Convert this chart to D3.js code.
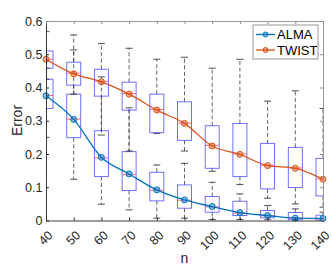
<!DOCTYPE html>
<html>
<head>
<meta charset="utf-8">
<script src="https://cdn.jsdelivr.net/npm/d3@7"></script>
<style>
  body { margin: 0; background: #fff; }
  svg { display: block; font-family: "Liberation Sans", Arial, sans-serif; }
</style>
</head>
<body>
<div id="chart"></div>
<script>
// values
let nValues = [40, 50, 60, 70, 80, 90, 100, 110, 120, 130, 140];
let yTicks = [0, 0.1, 0.2, 0.3, 0.4, 0.5, 0.6];

let almaLine   = [0.375, 0.304, 0.190, 0.140, 0.092, 0.062, 0.042, 0.024, 0.015, 0.007, 0.006];
let almaMedian = [0.376, 0.305, 0.188, 0.138, 0.091, 0.061, 0.041, 0.022, 0.014, 0.007, 0.005];
let almaQ1     = [0.337, 0.249, 0.132, 0.090, 0.059, 0.037, 0.025, 0.015, 0.008, 0.002, 0.001];
let almaQ3     = [0.425, 0.380, 0.270, 0.207, 0.145, 0.107, 0.072, 0.058, 0.030, 0.024, 0.016];
let almaLow    = [0.250, 0.124, 0.049, 0.032, 0.007, 0.007, 0.003, 0.003, 0.002, 0.001, 0.000];
let almaHigh   = [0.458, 0.513, 0.432, 0.339, 0.167, 0.172, 0.115, 0.080, 0.045, 0.035, 0.025];

let twistLine   = [0.485, 0.441, 0.417, 0.380, 0.332, 0.292, 0.224, 0.199, 0.165, 0.157, 0.124];
let twistMedian = [0.485, 0.443, 0.419, 0.382, 0.334, 0.293, 0.226, 0.200, 0.166, 0.158, 0.125];
let twistQ1     = [0.458, 0.407, 0.374, 0.332, 0.264, 0.241, 0.157, 0.132, 0.095, 0.099, 0.074];
let twistQ3     = [0.510, 0.476, 0.455, 0.416, 0.380, 0.357, 0.285, 0.292, 0.232, 0.220, 0.187];
let twistLow    = [0.425, 0.380, 0.257, 0.209, 0.262, 0.209, 0.148, 0.108, 0.067, 0.050, 0.040];
let twistHigh   = [0.568, 0.558, 0.532, 0.518, 0.485, 0.491, 0.458, 0.485, 0.359, 0.390, 0.337];

let seriesNames = ["ALMA", "TWIST"];
let seriesColors = ["#0072bd", "#d95319"];

let margin = {top: 21, left: 46},
    width = 277,
    height = 199.5;

let x = d3.scaleLinear().domain([40, 140]).range([0, width]);
let y = d3.scaleLinear().domain([0, 0.6]).range([height, 0]);

let svg = d3.select("#chart").append("svg")
            .attr("width", 332)
            .attr("height", 266);

let g = svg.append("g")
           .attr("transform", "translate(" + margin.left + "," + margin.top + ")");

g.append("clipPath").attr("id", "clip")
 .append("rect").attr("width", width).attr("height", height);

let plot = g.append("g").attr("clip-path", "url(#clip)");

// one record per box
let boxes = [];
nValues.forEach(function(n, i) {
  boxes.push({n: n, q1: almaQ1[i], q3: almaQ3[i], med: almaMedian[i], lo: almaLow[i], hi: almaHigh[i]});
  boxes.push({n: n, q1: twistQ1[i], q3: twistQ3[i], med: twistMedian[i], lo: twistLow[i], hi: twistHigh[i]});
});

let boxHalf = 7, capHalf = 3.5;

let bx = plot.selectAll(".box")
  .data(boxes)
  .enter().append("g")
  .attr("class", "box");

// whiskers
bx.append("line")
  .attr("x1", function(d) { return x(d.n); })
  .attr("x2", function(d) { return x(d.n); })
  .attr("y1", function(d) { return y(d.q3); })
  .attr("y2", function(d) { return y(d.hi); })
  .attr("stroke", "#222").attr("stroke-width", 0.7).attr("stroke-dasharray", "4,2.5");
bx.append("line")
  .attr("x1", function(d) { return x(d.n); })
  .attr("x2", function(d) { return x(d.n); })
  .attr("y1", function(d) { return y(d.q1); })
  .attr("y2", function(d) { return y(d.lo); })
  .attr("stroke", "#222").attr("stroke-width", 0.7).attr("stroke-dasharray", "4,2.5");

// caps
bx.append("line")
  .attr("x1", function(d) { return x(d.n) - capHalf; })
  .attr("x2", function(d) { return x(d.n) + capHalf; })
  .attr("y1", function(d) { return y(d.hi); })
  .attr("y2", function(d) { return y(d.hi); })
  .attr("stroke", "#222").attr("stroke-width", 0.8);
bx.append("line")
  .attr("x1", function(d) { return x(d.n) - capHalf; })
  .attr("x2", function(d) { return x(d.n) + capHalf; })
  .attr("y1", function(d) { return y(d.lo); })
  .attr("y2", function(d) { return y(d.lo); })
  .attr("stroke", "#222").attr("stroke-width", 0.8);

bx.append("rect")
  .attr("x", function(d) { return x(d.n) - boxHalf; })
  .attr("width", boxHalf * 2)
  .attr("y", function(d) { return y(d.q3); })
  .attr("height", function(d) { return y(d.q1) - y(d.q3); })
  .attr("fill", "none")
  .attr("stroke", "#3a3aff").attr("stroke-opacity", 0.8).attr("stroke-width", 0.9);

bx.append("line")
  .attr("x1", function(d) { return x(d.n) - boxHalf; })
  .attr("x2", function(d) { return x(d.n) + boxHalf; })
  .attr("y1", function(d) { return y(d.med); })
  .attr("y2", function(d) { return y(d.med); })
  .attr("stroke", "#ff3030").attr("stroke-opacity", 0.8).attr("stroke-width", 0.9);

// lines with markers
let line = d3.line()
  .curve(d3.curveMonotoneX)
  .x(function(d) { return x(d.n); })
  .y(function(d) { return y(d.v); });

[almaLine, twistLine].forEach(function(vals, s) {
  let data = nValues.map(function(n, i) { return {n: n, v: vals[i]}; });
  plot.append("path")
      .datum(data)
      .attr("d", line)
      .attr("fill", "none")
      .attr("stroke", seriesColors[s])
      .attr("stroke-width", 1.3);
  g.selectAll(".dot" + s)
   .data(data)
   .enter().append("circle")
   .attr("cx", function(d) { return x(d.n); })
   .attr("cy", function(d) { return y(d.v); })
   .attr("r", 3)
   .attr("fill", seriesColors[s]).attr("fill-opacity", 0.45)
   .attr("stroke", seriesColors[s]).attr("stroke-width", 1);
});

// axes
let xAxis = g.append("g")
  .attr("transform", "translate(0," + height + ")")
  .style("color", "#262626")
  .call(d3.axisBottom(x).tickValues(nValues).tickSizeInner(-3).tickSizeOuter(0).tickPadding(0));
xAxis.selectAll("text")
  .attr("y", null).attr("dy", null)
  .attr("text-anchor", "end")
  .attr("transform", "translate(7,15.5) rotate(-45)")
  .style("font-size", "12.5px")
  .attr("fill", "#262626");

g.append("g")
  .style("color", "#262626")
  .call(d3.axisLeft(y).tickValues(yTicks).tickSizeInner(-3).tickSizeOuter(0).tickPadding(3.5)
        .tickFormat(function(d) { return d === 0 ? "0" : d3.format(".1f")(d); }))
  .selectAll("text")
  .style("font-size", "12.5px")
  .attr("fill", "#262626");

g.append("g")
  .style("color", "#8c8c8c")
  .call(d3.axisTop(x).tickValues(nValues).tickSizeInner(-3).tickSizeOuter(0).tickFormat(""));

g.append("g")
  .attr("transform", "translate(" + width + ",0)")
  .style("color", "#8c8c8c")
  .call(d3.axisRight(y).tickValues(yTicks).tickSizeInner(-3).tickSizeOuter(0).tickFormat(""));

svg.selectAll(".domain").attr("stroke-width", 0.9);

// labels
svg.append("text")
   .attr("transform", "translate(21.5,120.5) rotate(-90)")
   .attr("text-anchor", "middle")
   .style("font-size", "14px")
   .attr("fill", "#262626")
   .text("Error");

svg.append("text")
   .attr("x", margin.left + width / 2)
   .attr("y", 263)
   .attr("text-anchor", "middle")
   .style("font-size", "14px")
   .attr("fill", "#262626")
   .text("n");

// legend
let legend = svg.append("g").attr("transform", "translate(253,25)");
legend.append("rect")
  .attr("width", 65).attr("height", 34)
  .attr("fill", "#fff").attr("stroke", "#8c8c8c").attr("stroke-width", 0.9);

seriesNames.forEach(function(name, s) {
  let ly = 9.5 + s * 15.5;
  legend.append("line")
    .attr("x1", 3).attr("x2", 22).attr("y1", ly).attr("y2", ly)
    .attr("stroke", seriesColors[s]).attr("stroke-width", 1.3);
  legend.append("circle")
    .attr("cx", 12.5).attr("cy", ly).attr("r", 2.5)
    .attr("fill", seriesColors[s]).attr("fill-opacity", 0.45)
    .attr("stroke", seriesColors[s]).attr("stroke-width", 1);
  legend.append("text")
    .attr("x", 24).attr("y", ly + 4.5)
    .style("font-size", "13px")
    .attr("fill", "#000")
    .text(name);
});
</script>
</body>
</html>
